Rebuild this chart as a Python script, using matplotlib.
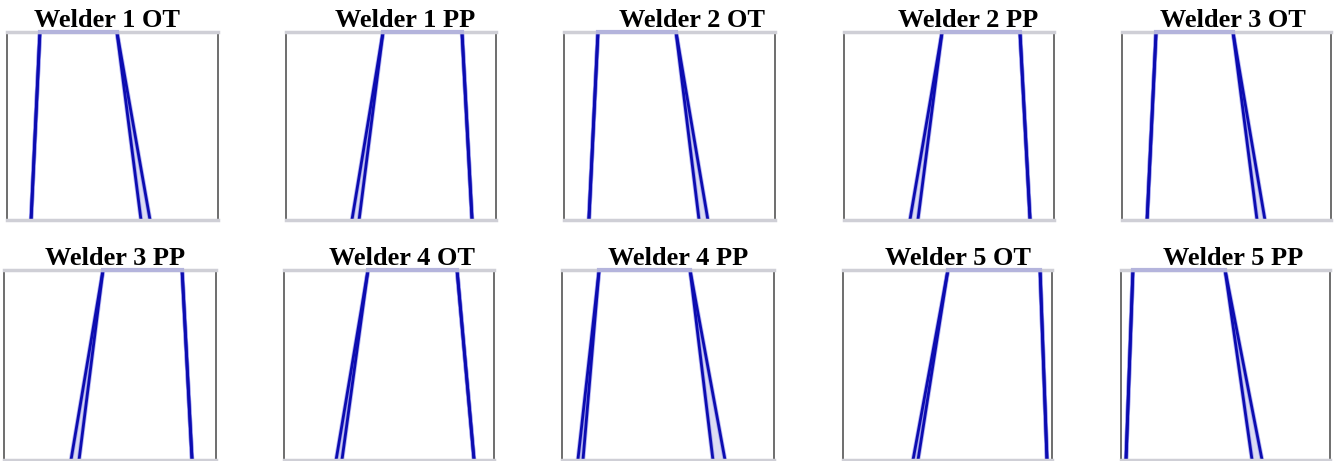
import matplotlib
matplotlib.use("Agg")
import matplotlib.pyplot as plt

# ------------------------------------------------------------
# Données : trapèzes (MF supérieure / inférieure), axe x normalisé 0-1
# ------------------------------------------------------------
titres = ["Welder 1 OT", "Welder 1 PP", "Welder 2 OT", "Welder 2 PP", "Welder 3 OT",
          "Welder 3 PP", "Welder 4 OT", "Welder 4 PP", "Welder 5 OT", "Welder 5 PP"]

a_sup = [0.114, 0.314, 0.118, 0.314, 0.120, 0.316, 0.248, 0.075, 0.335, 0.024]
a_inf = [0.114, 0.348, 0.118, 0.352, 0.120, 0.354, 0.276, 0.099, 0.359, 0.024]
b_haut = [0.156, 0.462, 0.161, 0.467, 0.163, 0.467, 0.400, 0.175, 0.502, 0.057]
c_haut = [0.521, 0.838, 0.531, 0.838, 0.531, 0.840, 0.824, 0.604, 0.943, 0.498]
d_inf = [0.635, 0.886, 0.640, 0.886, 0.646, 0.887, 0.905, 0.712, 0.976, 0.627]
d_sup = [0.678, 0.886, 0.682, 0.886, 0.684, 0.887, 0.905, 0.769, 0.976, 0.675]

# positions des axes en pixels (gauche, droite, haut, bas)
W, H = 1337, 461
cadres = [(7, 218, 32, 220), (286, 496, 32, 220), (564, 775, 32, 220),
          (844, 1054, 32, 220), (1122, 1331, 32, 220),
          (4, 216, 270, 460), (284, 494, 270, 460), (562, 774, 270, 460),
          (843, 1052, 270, 460), (1121, 1330, 270, 460)]
decal_titre = [-0.024, 0.067, 0.109, 0.090, 0.033, 0.024, 0.062, 0.047, 0.048, 0.038]

BLEU = "#0c0cb0"
HALO = "#7070e8"
LAVANDE = "#dcdcf2"

fig = plt.figure(figsize=(W / 100, H / 100), dpi=100)

for i, titre in enumerate(titres):
    g, d, h, bas = cadres[i]
    ax = fig.add_axes([g / W, 1 - bas / H, (d - g) / W, (bas - h) / H])

    x_sup = [a_sup[i], b_haut[i], c_haut[i], d_sup[i]]
    x_inf = [a_inf[i], b_haut[i], c_haut[i], d_inf[i]]
    y = [0, 1, 1, 0]

    # empreinte d'incertitude
    ax.fill(x_sup, y, color=LAVANDE, lw=0)
    ax.fill(x_inf, y, color="white", lw=0)

    segments = [([a_sup[i], b_haut[i]], [0, 1]), ([a_inf[i], b_haut[i]], [0, 1]),
                ([c_haut[i], d_sup[i]], [1, 0]), ([c_haut[i], d_inf[i]], [1, 0])]
    for xs, ys in segments:
        ax.plot(xs, ys, color=HALO, lw=3.2, alpha=0.5, solid_capstyle="round")
    for xs, ys in segments:
        ax.plot(xs, ys, color=BLEU, lw=2.0)
    ax.plot([b_haut[i], c_haut[i]], [1, 1], color="#b4b4dc", lw=3, clip_on=False, zorder=5)

    ax.set_xlim(0, 1)
    ax.set_ylim(0, 1)
    ax.set_xticks([])
    ax.set_yticks([])
    for cote in ["left", "right"]:
        ax.spines[cote].set_color("#555555")
        ax.spines[cote].set_linewidth(1.2)
    for cote in ["top", "bottom"]:
        ax.spines[cote].set_color("#cfcfd6")
        ax.spines[cote].set_linewidth(2.5)

    ax.set_title(titre, x=0.5 + decal_titre[i], pad=3, fontsize=19,
                 fontweight="bold", family="Liberation Serif")

plt.savefig("out.png", dpi=100)
